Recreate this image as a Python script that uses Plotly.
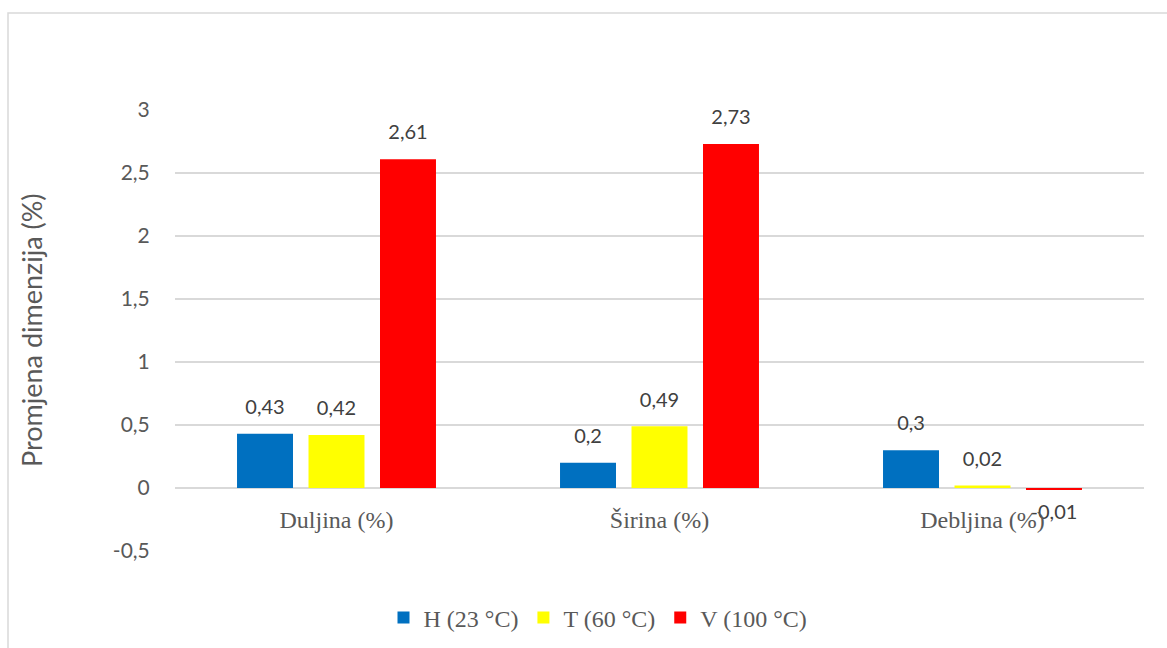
import plotly.graph_objects as go

# Dimension change per sample, conditioned at three temperatures
categories = ["Duljina (%)", "Širina (%)", "Debljina (%)"]
series_names = ["H (23 °C)", "T (60 °C)", "V (100 °C)"]
h_values = [0.43, 0.20, 0.30]
t_values = [0.42, 0.49, 0.02]
v_values = [2.61, 2.73, -0.01]
colors = ["#0070C0", "#FFFF00", "#FF0000"]

y_min, y_max = -0.5, 3.0
tick_vals = [-0.5, 0, 0.5, 1, 1.5, 2, 2.5, 3]
tick_text = ["-0,5", "0", "0,5", "1", "1,5", "2", "2,5", "3"]

W, H = 1167, 648
ML, MR, MT, MB = 175, 23, 110, 97
plot_w = W - ML - MR
plot_h = H - MT - MB

sans = "Lato"
serif = "Liberation Serif"
BARGAP = 0.336


def fmt(v):
    s = f"{v:.2f}".rstrip("0").rstrip(".")
    return s.replace(".", ",")


fig = go.Figure()
all_series = [h_values, t_values, v_values]
for i, (name, vals, col) in enumerate(zip(series_names, all_series, colors)):
    fig.add_trace(go.Bar(
        x=categories,
        y=vals,
        name=name,
        offsetgroup=str(i),
        marker=dict(color=col, line=dict(width=0)),
        cliponaxis=False,
    ))

# value labels, placed above positive bars and below negative ones
for i, vals in enumerate(all_series):
    fig.add_trace(go.Scatter(
        x=categories,
        y=vals,
        offsetgroup=str(i),
        mode="markers+text",
        marker=dict(size=22, color="rgba(0,0,0,0)"),
        text=[fmt(v) for v in vals],
        textposition=["top center" if v >= 0 else "bottom center" for v in vals],
        textfont=dict(family=sans, size=20, color="#404040"),
        showlegend=False,
        hoverinfo="skip",
        cliponaxis=False,
    ))

# chart-area frame
fig.add_shape(
    type="rect", xref="paper", yref="paper",
    x0=(8 - ML) / plot_w, x1=(W + 20 - ML) / plot_w,
    y0=-(H + 20 - MT - plot_h) / plot_h, y1=1 + (MT - 13) / plot_h,
    line=dict(color="#D9D9D9", width=1.5),
    fillcolor="rgba(0,0,0,0)",
)

fig.add_annotation(
    text="Promjena dimenzija (%)",
    xref="paper", yref="paper",
    x=(31 - ML) / plot_w, y=(551 - 330) / plot_h,
    xanchor="center", yanchor="middle",
    textangle=-90, showarrow=False,
    font=dict(family=sans, size=27, color="#595959"),
)

fig.update_layout(
    width=W, height=H,
    margin=dict(l=ML, r=MR, t=MT, b=MB, pad=0, autoexpand=False),
    paper_bgcolor="white", plot_bgcolor="white",
    barmode="group",
    bargap=BARGAP,
    bargroupgap=0.217,
    scattermode="group",
    scattergap=BARGAP,
    showlegend=True,
    legend=dict(
        orientation="h",
        x=(598 - ML) / plot_w, xanchor="center",
        y=-(618 - MT - plot_h) / plot_h, yanchor="middle",
        font=dict(family=serif, size=24, color="#595959"),
        bgcolor="rgba(0,0,0,0)",
    ),
    xaxis=dict(
        anchor="free",
        position=(0 - y_min) / (y_max - y_min),
        showgrid=False,
        showline=False,
        ticks="outside", ticklen=10, tickcolor="rgba(0,0,0,0)",
        tickfont=dict(family=serif, size=24, color="#595959"),
    ),
    yaxis=dict(
        range=[y_min, y_max],
        tickvals=tick_vals,
        ticktext=tick_text,
        showgrid=True, gridcolor="#D9D9D9", gridwidth=1.5,
        zeroline=True, zerolinecolor="#D9D9D9", zerolinewidth=1.5,
        showline=False,
        ticks="outside", ticklen=20, tickcolor="rgba(0,0,0,0)",
        tickfont=dict(family=sans, size=21, color="#595959"),
    ),
)

fig.write_html("out.html")
